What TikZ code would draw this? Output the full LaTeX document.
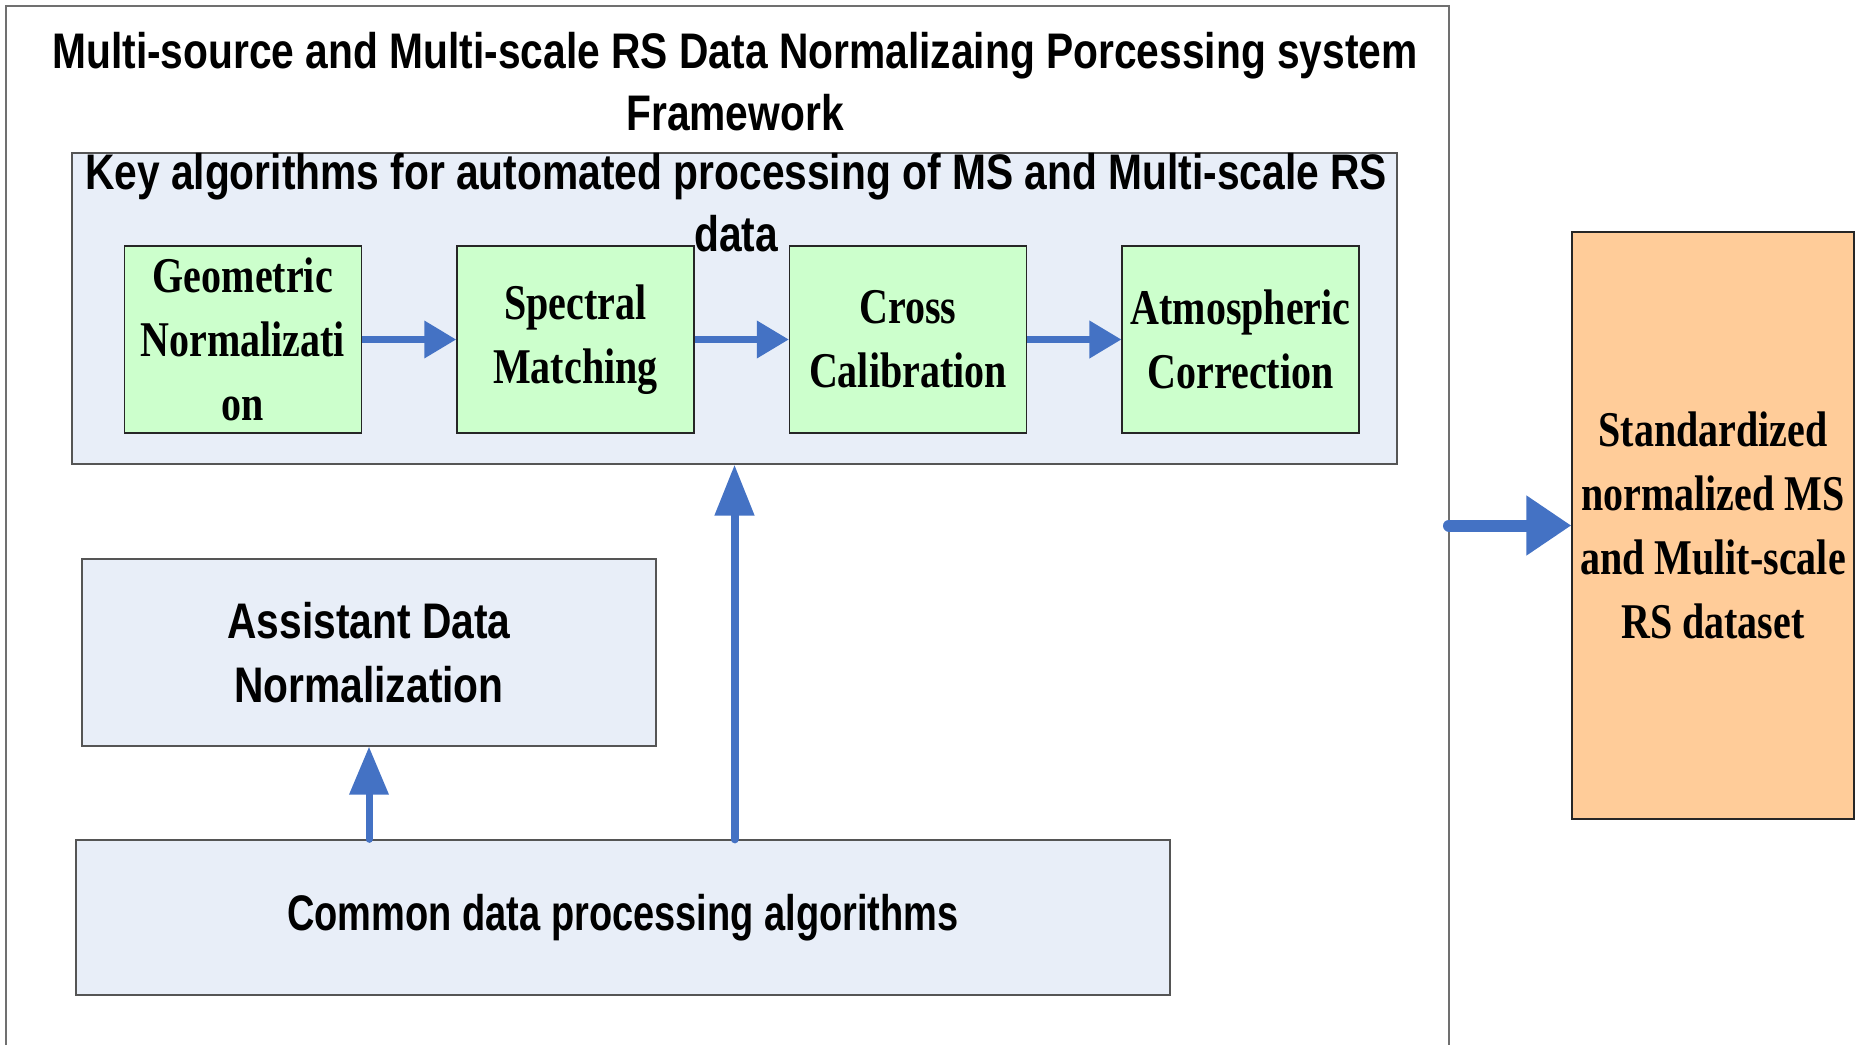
\documentclass[tikz,border=0pt]{standalone}
\usepackage{fontspec}
\usetikzlibrary{arrows.meta}
\newfontfamily\narrowsans[FakeStretch=0.815]{Liberation Sans}
\newfontfamily\narrowersans[FakeStretch=0.76]{Liberation Sans}
\newfontfamily\boxserif[FakeStretch=0.8]{Liberation Serif}
\definecolor{panelblue}{HTML}{E8EEF8}
\definecolor{stepgreen}{HTML}{CCFFCC}
\definecolor{outorange}{HTML}{FFCC99}
\definecolor{flowblue}{HTML}{4472C4}
\definecolor{edgegray}{HTML}{555555}
\definecolor{framegray}{HTML}{707070}
\begin{document}
\begin{tikzpicture}[x=1pt,y=-1pt,
  sanslabel/.style={font=\narrowsans\bfseries\fontsize{50}{62}\selectfont, align=center, inner sep=0pt},
  panel/.style={draw=edgegray, line width=1.3pt, fill=panelblue, inner sep=0pt},
  stepbox/.style={draw=black!85, line width=1.3pt, fill=stepgreen,
    minimum width=237pt, minimum height=187pt, inner sep=0pt, align=center,
    font=\boxserif\bfseries\fontsize{50}{64}\selectfont},
  outbox/.style={draw=black!85, line width=1.3pt, fill=outorange,
    minimum width=282pt, minimum height=587pt, inner sep=0pt, align=center,
    font=\boxserif\bfseries\fontsize{50}{64}\selectfont},
  flowarrow/.style={draw=flowblue, line width=7pt, -{Triangle[length=32pt,width=36pt]}},
  liftarrow/.style={draw=flowblue, line width=7pt, line cap=round, -{Triangle[length=48pt,width=38pt]}},
  mainarrow/.style={draw=flowblue, line width=8pt, line cap=round, -{Triangle[length=51pt,width=38pt]}},
  exitarrow/.style={draw=flowblue, line width=12pt, line cap=round, -{Triangle[length=45pt,width=57pt]}}]

\useasboundingbox (0,0) rectangle (1856,1045);

% outer framework border, open at the bottom
\draw[framegray, line width=1.5pt] (6,1045) -- (6,6) -- (1449,6) -- (1449,1045);

% framework title
\node[sanslabel] (title) at (735,82)
  {Multi-source and Multi-scale RS Data Normalizaing Porcessing system\\Framework};

% key algorithm panel
\node[panel, minimum width=1325pt, minimum height=311pt] (key) at (734.5,308.5) {};
\node[sanslabel] (keylabel) at (736,203)
  {Key algorithms for automated processing of MS and Multi-scale RS\\data};

% processing chain
\node[stepbox] (geo)  at (242.8,339.5)  {Geometric\\Normalizati\\on};
\node[stepbox] (spec) at (575.4,339.5)  {Spectral\\Matching};
\node[stepbox] (cal)  at (908,339.5)    {Cross\\Calibration};
\node[stepbox] (atm)  at (1240.6,339.5) {Atmospheric\\Correction};

\draw[flowarrow] (geo.east)  -- (spec.west);
\draw[flowarrow] (spec.east) -- (cal.west);
\draw[flowarrow] (cal.east)  -- (atm.west);

% lower panels
\node[panel, minimum width=574pt, minimum height=187pt, align=center,
      font=\narrowsans\bfseries\fontsize{50}{64}\selectfont] (assist) at (369,652.5)
  {Assistant Data\\Normalization};
\node[panel, minimum width=1094pt, minimum height=155pt,
      font=\narrowersans\bfseries\fontsize{50}{62}\selectfont] (common) at (623,917.5)
  {Common data processing algorithms};

\draw[liftarrow] (assist.south |- common.north) -- (assist.south);
\draw[mainarrow] (key.south |- common.north) -- (key.south);

% output dataset
\node[outbox] (out) at (1713,525.5)
  {Standardized\\normalized MS\\and Mulit-scale\\RS dataset};

\coordinate (frameexit) at (1449,525.5);
\draw[exitarrow] (frameexit) -- (out.west);
\end{tikzpicture}
\end{document}
